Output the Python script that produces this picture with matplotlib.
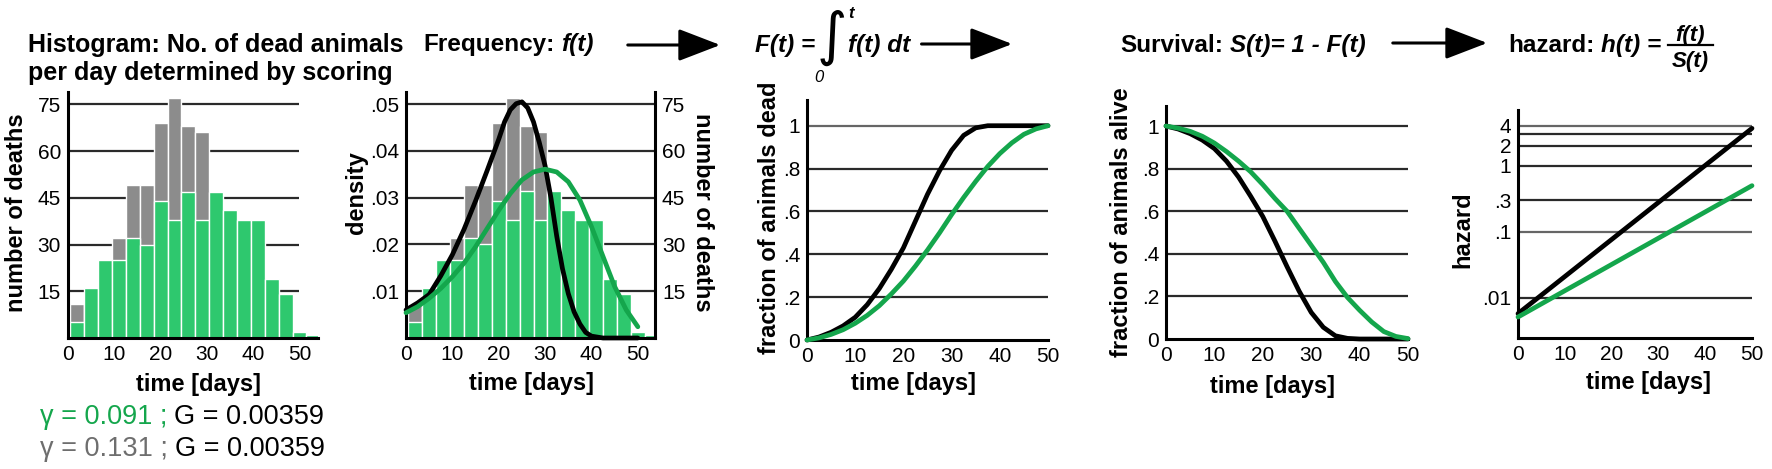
import numpy as np
import matplotlib.pyplot as plt
from matplotlib.patches import FancyArrowPatch
from matplotlib.lines import Line2D
from matplotlib.ticker import NullLocator

plt.rcParams['font.family'] = ['Liberation Sans', 'DejaVu Sans']

# ---------------------------------------------------------------- data
# histogram: 3-day bins (centre of bin, days)
bin_mid = [2, 5, 8, 11, 14, 17, 20, 23, 26, 29, 32, 35, 38, 41, 44, 47, 50, 53]
deaths_green = [5, 16, 25, 25, 32, 30, 44, 38, 47, 38, 47, 41, 38, 38, 19, 14, 2, 1]
deaths_gray = [11, 14, 21, 32, 49, 49, 69, 77, 68, 66, 33, 15, 4, 1, 0, 0, 0, 0]

# curves
t_curve = [0, 2.5, 5, 7.5, 10, 12.5, 15, 17.5, 20, 22.5, 25,
           27.5, 30, 32.5, 35, 37.5, 40, 42.5, 45, 47.5, 50]
t_fblack = [0, 2.5, 5, 7.5, 10, 12.5, 15, 17.5, 20, 21.25, 22.5, 23.75, 25,
            26.25, 27.5, 28.75, 30, 31.25, 32.5, 33.75, 35, 36.25, 37.5,
            38.75, 40, 42.5, 45, 47.5, 50]
f_black = [0.0060, 0.0075, 0.0093, 0.0133, 0.0178, 0.0232, 0.0293, 0.0358,
           0.0425, 0.0462, 0.0488, 0.0501, 0.0505, 0.0492, 0.0462, 0.0418,
           0.0368, 0.0300, 0.0218, 0.0148, 0.0095, 0.0056, 0.0030, 0.0012,
           0.0004, 0.0, 0.0, 0.0, 0.0]
f_green = [0.0054, 0.0067, 0.0085, 0.0106, 0.0131, 0.0160, 0.0195, 0.0234,
           0.0273, 0.0309, 0.0338, 0.0355, 0.0361, 0.0355, 0.0334, 0.0295,
           0.0238, 0.0174, 0.0110, 0.0060, 0.0024]
F_black = [0, 0.014, 0.036, 0.066, 0.106, 0.165, 0.24, 0.33, 0.43, 0.555, 0.68,
           0.79, 0.885, 0.955, 0.99, 1.0, 1.0, 1.0, 1.0, 1.0, 1.0]
F_green = [0, 0.010, 0.026, 0.048, 0.078, 0.115, 0.16, 0.215, 0.275, 0.345, 0.42,
           0.50, 0.585, 0.665, 0.74, 0.81, 0.87, 0.92, 0.96, 0.985, 1.0]
S_black = [1.0, 0.986, 0.964, 0.934, 0.894, 0.835, 0.76, 0.67, 0.575, 0.46, 0.34,
           0.225, 0.125, 0.055, 0.015, 0.003, 0.0, 0.0, 0.0, 0.0, 0.0]
S_green = [1.0, 0.99, 0.975, 0.952, 0.92, 0.88, 0.835, 0.785, 0.725, 0.66, 0.60,
           0.52, 0.44, 0.36, 0.27, 0.195, 0.135, 0.08, 0.035, 0.012, 0.002]
t_hazard = [0, 50]
h_black = [0.0058, 3.68]
h_green = [0.00515, 0.50]

x_ticks = [0, 10, 20, 30, 40, 50]

GREEN_BAR = '#2ec86e'
GREEN_LINE = '#14a64c'
GRAY_BAR = '#8c8c8c'
GRID = '#2a2a2a'

W, H = 1772, 469
fig = plt.figure(figsize=(W / 100, H / 100), dpi=100)


def box(l, r, b, t):
    # pixel box -> figure fraction
    return [l / W, 1 - b / H, (r - l) / W, (b - t) / H]


def pt(x, y):
    return (x / W, 1 - y / H)


def style(ax):
    ax.spines['top'].set_visible(False)
    ax.spines['right'].set_visible(False)
    for s in ['left', 'bottom']:
        ax.spines[s].set_linewidth(2.2)
    ax.tick_params(length=0, labelsize=15, pad=5)
    ax.set_xticks(x_ticks)
    ax.set_facecolor('none')


def curve(ax, x, y, c):
    ax.plot(x, y, color=c, lw=3.4, solid_capstyle='round', solid_joinstyle='round',
            zorder=3, clip_on=False)


# ---------------------------------------------------------------- panel 1
ax1 = fig.add_axes(box(68, 318, 338, 92))
style(ax1)
ax1.hlines([15, 30, 45, 60, 75], 0, 50, color=GRID, lw=1.6, zorder=0.5)
ax1.bar(bin_mid, deaths_gray, width=3, color=GRAY_BAR, edgecolor='white', lw=1.0, zorder=1)
ax1.bar(bin_mid, deaths_green, width=3, color=GREEN_BAR, edgecolor='white', lw=1.0, zorder=1.2)
ax1.set_xlim(0, 54)
ax1.set_ylim(0, 79)
ax1.set_yticks([15, 30, 45, 60, 75])
ax1.set_xlabel('time [days]', fontsize=17, fontweight='bold', va='center')
ax1.set_ylabel('number of deaths', fontsize=17, fontweight='bold', va='center')
ax1.xaxis.set_label_coords(0.52, -0.19)
ax1.yaxis.set_label_coords(-0.204, 0.51)

# ---------------------------------------------------------------- panel 2
ax2 = fig.add_axes(box(406, 655, 338, 92))
tw = ax2.twinx()
style(ax2)
for s in ['left', 'top', 'bottom']:
    tw.spines[s].set_visible(False)
tw.spines['right'].set_linewidth(2.2)
tw.hlines([15, 30, 45, 60, 75], 0, 53.7, color=GRID, lw=1.6, zorder=0.5)
tw.bar(bin_mid, deaths_gray, width=3, color=GRAY_BAR, edgecolor='white', lw=1.0, zorder=1)
tw.bar(bin_mid, deaths_green, width=3, color=GREEN_BAR, edgecolor='white', lw=1.0, zorder=1.2)
tw.set_ylim(0, 78.9)
tw.set_yticks([15, 30, 45, 60, 75])
tw.tick_params(length=0, labelsize=15, pad=5)
tw.set_ylabel('number of deaths', fontsize=17, fontweight='bold', rotation=270, va='center')
tw.yaxis.set_label_coords(1.19, 0.51)
ax2.set_zorder(tw.get_zorder() + 1)
curve(ax2, t_fblack, f_black, 'black')
curve(ax2, t_curve, f_green, GREEN_LINE)
ax2.set_xlim(0, 53.7)
ax2.set_ylim(0, 0.0526)
ax2.set_yticks([0.01, 0.02, 0.03, 0.04, 0.05])
ax2.set_yticklabels(['.01', '.02', '.03', '.04', '.05'])
ax2.set_xlabel('time [days]', fontsize=17, fontweight='bold', va='center')
ax2.set_ylabel('density', fontsize=17, fontweight='bold', va='center')
ax2.xaxis.set_label_coords(0.506, -0.183)
ax2.yaxis.set_label_coords(-0.197, 0.59)

# ---------------------------------------------------------------- panel 3
ax3 = fig.add_axes(box(807, 1048, 340, 100))
style(ax3)
ax3.hlines([0.2, 0.4, 0.6, 0.8], 0, 50, color=GRID, lw=1.6, zorder=0.5)
ax3.hlines([1.0], 0, 50, color='#666666', lw=1.6, zorder=0.5)
curve(ax3, t_curve, F_black, 'black')
curve(ax3, t_curve, F_green, GREEN_LINE)
ax3.set_xlim(0, 50)
ax3.set_ylim(0, 1.12)
ax3.set_yticks([0, 0.2, 0.4, 0.6, 0.8, 1.0])
ax3.set_yticklabels(['0', '.2', '.4', '.6', '.8', '1'])
ax3.set_xlabel('time [days]', fontsize=17, fontweight='bold', va='center')
ax3.set_ylabel('fraction of animals dead', fontsize=17, fontweight='bold', va='center')
ax3.xaxis.set_label_coords(0.44, -0.18)
ax3.yaxis.set_label_coords(-0.154, 0.508)

# ---------------------------------------------------------------- panel 4
ax4 = fig.add_axes(box(1166, 1408, 339, 106))
style(ax4)
ax4.hlines([0.2, 0.4, 0.6, 0.8, 1.0], 0, 50, color=GRID, lw=1.6, zorder=0.5)
curve(ax4, t_curve, S_black, 'black')
curve(ax4, t_curve, S_green, GREEN_LINE)
ax4.set_xlim(0, 50)
ax4.set_ylim(0, 1.094)
ax4.set_yticks([0, 0.2, 0.4, 0.6, 0.8, 1.0])
ax4.set_yticklabels(['0', '.2', '.4', '.6', '.8', '1'])
ax4.set_xlabel('time [days]', fontsize=17, fontweight='bold', va='center')
ax4.set_ylabel('fraction of animals alive', fontsize=17, fontweight='bold', va='center')
ax4.xaxis.set_label_coords(0.442, -0.205)
ax4.yaxis.set_label_coords(-0.182, 0.502)

# ---------------------------------------------------------------- panel 5
ax5 = fig.add_axes(box(1518, 1752, 338, 110))
style(ax5)
ax5.set_yscale('log')
ax5.hlines([0.01, 0.3, 1, 2, 3], 0, 50, color=GRID, lw=1.6, zorder=0.5)
ax5.hlines([0.1, 4], 0, 50, color='#666666', lw=1.6, zorder=0.5)
curve(ax5, t_hazard, h_black, 'black')
curve(ax5, t_hazard, h_green, GREEN_LINE)
ax5.set_xlim(0, 50)
ax5.set_ylim(0.00248, 6.97)
ax5.set_yticks([0.01, 0.1, 0.3, 1, 2, 4])
ax5.set_yticklabels(['.01', '.1', '.3', '1', '2', '4'])
ax5.yaxis.set_minor_locator(NullLocator())
ax5.set_xlabel('time [days]', fontsize=17, fontweight='bold', va='center')
ax5.set_ylabel('hazard', fontsize=17, fontweight='bold', va='center')
ax5.xaxis.set_label_coords(0.556, -0.197)
ax5.yaxis.set_label_coords(-0.235, 0.474)

# ---------------------------------------------------------------- titles
renderer = fig.canvas.get_renderer()


def chain(x, y, parts, size):
    # draws text pieces one after another on a common baseline
    for s, kw, gap in parts:
        t = fig.text(x / W, 1 - y / H, s, fontsize=size, va='baseline', **kw)
        bb = t.get_window_extent(renderer)
        x = bb.x1 + gap
    return x


B = dict(fontweight='bold')
BI = dict(fontweight='bold', style='italic')

fig.text(28 / W, 1 - 52 / H, 'Histogram: No. of dead animals', fontsize=18, va='baseline', **B)
fig.text(28 / W, 1 - 80 / H, 'per day determined by scoring', fontsize=18, va='baseline', **B)

chain(423, 51, [('Frequency:', B, 7), ('f(t)', BI, 0)], 17.5)

# F(t) = integral_0^t f(t) dt
end = chain(755, 52, [('F(t) =', BI, 0)], 17.5)
integ = fig.text((end + 1) / W, 1 - 37 / H, '\u222b', fontsize=42, ha='left', va='center',
                 family=['DejaVu Sans'])
ib = integ.get_window_extent(renderer)
fig.text((ib.x1 + 5) / W, 1 - 13 / H, 't', fontsize=12, ha='center', va='center', **BI)
fig.text((ib.x0 + 3) / W, 1 - 77 / H, '0', fontsize=12, ha='center', va='center', style='italic')
dt_end = chain(ib.x1 + 1, 52, [('f(t) dt', BI, 0)], 17.5)

chain(1120, 52, [('Survival:', B, 7), ('S(t)= 1 - F(t)', BI, 0)], 17.5)

chain(1508, 52, [('hazard:', B, 7), ('h(t) =', BI, 0)], 17.5)
fig.text(1690 / W, 1 - 41 / H, 'f(t)', fontsize=16, ha='center', va='baseline', **BI)
fig.text(1690 / W, 1 - 67 / H, 'S(t)', fontsize=16, ha='center', va='baseline', **BI)
fig.add_artist(Line2D([1668 / W, 1713 / W], [1 - 45 / H, 1 - 45 / H], color='black',
                      lw=1.6, transform=fig.transFigure))

# arrows between the panels
for x0, x1, y in [(625, 723, 45), (dt_end + 9, 1015, 44), (1390, 1490, 43)]:
    fig.add_artist(FancyArrowPatch(pt(x0, y), pt(x1, y), transform=fig.transFigure,
                                   arrowstyle='-|>,head_length=1.3,head_width=0.5',
                                   mutation_scale=20, lw=2.2, color='black'))

# parameter text under panel 1
chain(40, 424, [('\u03b3 = 0.091 ;', dict(color=GREEN_LINE), 7),
                ('G = 0.00359', dict(color='black'), 0)], 19.5)
chain(40, 456, [('\u03b3 = 0.131 ;', dict(color='#6e6e6e'), 7),
                ('G = 0.00359', dict(color='black'), 0)], 19.5)

fig.savefig('out.png', dpi=100)
